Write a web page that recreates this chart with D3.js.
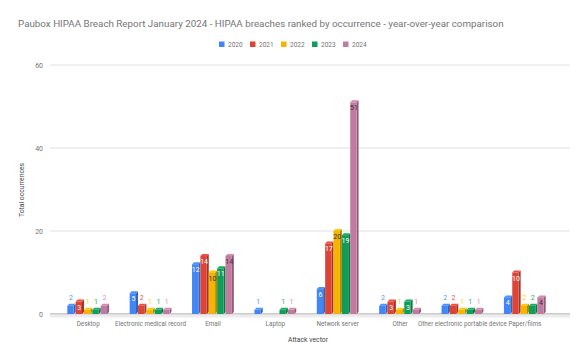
<!DOCTYPE html>
<html>
<head>
<meta charset="utf-8">
<script src="https://cdn.jsdelivr.net/npm/d3@7"></script>
<style>
  body { margin: 0; background: #fff; }
  text { font-family: Roboto, "Noto Sans", sans-serif; }
</style>
</head>
<body>
<div id="chart"></div>
<script>
// chart data
const categories = ["Desktop", "Electronic medical record", "Email", "Laptop", "Network server", "Other", "Other electronic portable device", "Paper/films"];
const years = ["2020", "2021", "2022", "2023", "2024"];
const v2020 = [2, 5, 12, 1, 6, 2, 2, 4];
const v2021 = [3, 2, 14, null, 17, 3, 2, 10];
const v2022 = [1, 1, 10, null, 20, 1, 1, 2];
const v2023 = [1, 1, 11, 1, 19, 3, 1, 2];
const v2024 = [2, 1, 14, 1, 51, 1, 1, 4];
const yTicks = [0, 20, 40, 60];

const series = [v2020, v2021, v2022, v2023, v2024];
const colors = ["#4285f4", "#db4437", "#f4b400", "#0f9d58", "#c27ba0"];
const insideText = ["#fff", "#fff", "#333", "#fff", "#333"];

const W = 585, H = 361;
const svg = d3.select("#chart").append("svg")
  .attr("width", W)
  .attr("height", H);

const x0 = d3.scaleBand()
  .domain(categories)
  .range([57, 556])
  .paddingInner(0.33)
  .paddingOuter(0.165);
const x1 = d3.scaleBand()
  .domain(years)
  .range([0, x0.bandwidth()]);
const y = d3.scaleLinear()
  .domain([0, 60])
  .range([314, 65]);

// title
svg.append("text")
  .attr("x", 18).attr("y", 27)
  .style("font-size", "9.8px")
  .style("fill", "#757575")
  .text("Paubox HIPAA Breach Report January 2024 - HIPAA breaches ranked by occurrence - year-over-year comparison");

// legend
const legend = svg.append("g").attr("transform", "translate(219,45)");
years.forEach((yr, i) => {
  const g = legend.append("g").attr("transform", "translate(" + (i * 31) + ",0)");
  g.append("rect").attr("x", 0).attr("y", -3.5).attr("width", 5.5).attr("height", 5.5).attr("fill", colors[i]);
  g.append("text").attr("x", 9).attr("y", 2)
    .style("font-size", "6.5px").style("fill", "#757575").text(yr);
});

// gridlines and y tick labels
const grid = svg.append("g");
yTicks.forEach(t => {
  grid.append("line")
    .attr("x1", 50).attr("x2", 570)
    .attr("y1", y(t)).attr("y2", y(t))
    .attr("stroke", t === 0 ? "#999" : "#e0e0e0")
    .attr("stroke-width", 1);
  grid.append("text")
    .attr("x", 43).attr("y", y(t) + 3)
    .attr("text-anchor", "end")
    .style("font-size", "7px").style("fill", "#757575")
    .text(t);
});
// floor strip under baseline
svg.append("rect")
  .attr("x", 50).attr("y", y(0) + 0.5)
  .attr("width", 520).attr("height", 3)
  .attr("fill", "#ececec");

// bars with a simple 3D look
const depth = 2;
const bars = svg.append("g");
categories.forEach((cat, ci) => {
  series.forEach((vals, si) => {
    const v = vals[ci];
    if (v == null) return;
    const bx = x0(cat) + x1(years[si]);
    const bw = x1.bandwidth() - depth;
    const top = y(v), base = y(0);
    const col = d3.color(colors[si]);
    // side face
    bars.append("path")
      .attr("d", `M${bx + bw},${top} L${bx + bw + depth},${top - depth} L${bx + bw + depth},${base - depth} L${bx + bw},${base} Z`)
      .attr("fill", col.darker(0.8));
    // top face
    bars.append("path")
      .attr("d", `M${bx},${top} L${bx + depth},${top - depth} L${bx + bw + depth},${top - depth} L${bx + bw},${top} Z`)
      .attr("fill", col.brighter(0.3));
    // front face
    bars.append("rect")
      .attr("x", bx).attr("y", top)
      .attr("width", bw).attr("height", base - top)
      .attr("fill", colors[si]);

    // value labels
    const inside = v >= 3;
    bars.append("text")
      .attr("x", bx + bw / 2 + 0.5)
      .attr("y", inside ? top + 8 : top - 6)
      .attr("text-anchor", "middle")
      .style("font-size", "7px")
      .style("fill", inside ? insideText[si] : col.brighter(0.4))
      .text(v);
  });
});

// category labels
categories.forEach(cat => {
  svg.append("text")
    .attr("x", x0(cat) + x0.bandwidth() / 2)
    .attr("y", 326)
    .attr("text-anchor", "middle")
    .style("font-size", "6.3px").style("fill", "#757575")
    .text(cat);
});

// axis titles
svg.append("text")
  .attr("x", 308).attr("y", 342)
  .attr("text-anchor", "middle")
  .style("font-size", "6.8px").style("fill", "#444")
  .text("Attack vector");
svg.append("text")
  .attr("transform", "translate(24,190) rotate(-90)")
  .attr("text-anchor", "middle")
  .style("font-size", "6.8px").style("fill", "#444")
  .text("Total occurrences");
</script>
</body>
</html>
